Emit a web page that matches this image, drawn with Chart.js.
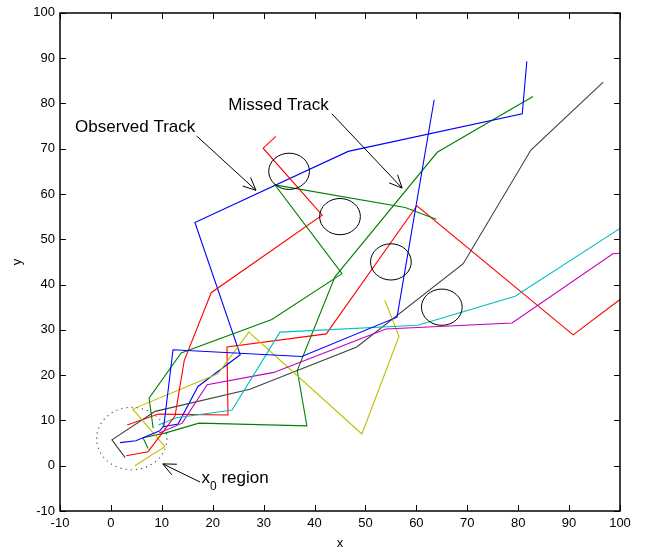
<!DOCTYPE html>
<html>
<head>
<meta charset="utf-8">
<script src="https://cdn.jsdelivr.net/npm/chart.js@4.4.1/dist/chart.umd.min.js"></script>
<style>
  html, body { margin: 0; padding: 0; background: #fff; }
  canvas { display: block; }
</style>
</head>
<body>
<canvas id="c" width="648" height="553" style="width:648px;height:553px"></canvas>
<script>
// ---- data ----
const xTicks = [-10, 0, 10, 20, 30, 40, 50, 60, 70, 80, 90, 100];
const yTicks = [-10, 0, 10, 20, 30, 40, 50, 60, 70, 80, 90, 100];

const trackBlue1   = [[1.8,5.1],[4.9,5.5],[9.6,7.7],[10.4,8.8],[12.2,25.6],[37.5,24.1],[56.2,32.8],[63.5,80.8]];
const trackGreen1  = [[8.3,8.3],[7.5,14.9],[13.8,24.9],[31.6,32.3],[45.4,42.4],[32.2,62.0],[57.8,57.0],[63.9,54.4]];
const trackRed1    = [[3.0,2.2],[7.3,3.1],[12.6,11.0],[14.4,23.2],[19.7,38.2],[41.5,55.3],[29.9,70.1],[32.4,72.7]];
const trackCyan    = [[9.3,9.0],[12.9,10.6],[23.8,12.3],[33.2,29.5],[60.3,31.0],[79.4,37.4],[100,52.4]];
const trackMagenta = [[9.5,7.2],[14.0,9.4],[18.9,17.9],[32.0,20.6],[54.0,30.2],[78.8,31.5],[98.6,46.8],[100,46.9]];
const trackYellow  = [[4.7,0.0],[10.6,4.2],[4.3,12.5],[21.0,20.3],[27.1,29.5],[49.3,7.0],[56.6,28.6],[53.8,36.5]];
const trackGray    = [[2.8,1.8],[0.2,5.7],[8.7,12.0],[27.3,16.9],[48.3,26.2],[69.2,44.6],[82.5,69.7],[96.7,84.7]];
const trackBlue2   = [[10.2,8.6],[13.2,9.2],[17.1,17.5],[25.4,24.5],[16.5,53.7],[46.6,69.4],[80.8,77.7],[81.7,89.3]];
const trackGreen2  = [[7.3,3.8],[6.3,6.2],[10.6,7.2],[17.3,9.4],[38.5,8.8],[36.6,21.0],[44.0,41.7],[64.1,69.2],[82.9,81.5]];
const trackRed2    = [[3.2,9.0],[9.3,11.4],[23.0,11.2],[22.8,26.2],[42.3,29.1],[60.1,57.4],[90.8,28.9],[100,36.7]];

const tracks = [trackBlue1, trackGreen1, trackRed1, trackCyan, trackMagenta, trackYellow, trackGray, trackBlue2, trackGreen2, trackRed2];
const trackColors = ['#0000ff', '#008000', '#ff0000', '#00bfbf', '#bf00bf', '#bfbf00', '#404040', '#0000ff', '#008000', '#ff0000'];

// gates (circles) around missed detections: centre x, centre y, radius (data units)
const gateCentersX = [35, 45, 55, 65];
const gateCentersY = [65, 55, 45, 35];
const gateRadius = 4;
// x0 region (dotted)
const regionCenter = [4.1, 6.0];
const regionRadius = 6.9;

// annotations (data units)
const labelTexts = ['Observed Track', 'Missed Track'];
const labelPos = [[-7.05, 73.7], [23.06, 78.5]];
const x0LabelPos = [17.8, -3.9];
const arrowsFrom = [[16.85, 72.8], [43.4, 77.7], [17.5, -3.6]];
const arrowsTo   = [[28.5, 60.8], [57.2, 61.3], [10.2, 0.4]];

const FONT = '"Liberation Sans", Helvetica, Arial, sans-serif';

const decorPlugin = {
  id: 'decor',
  afterDatasetsDraw(chart) {
    const ctx = chart.ctx;
    const xs = chart.scales.x, ys = chart.scales.y;
    const px = v => xs.getPixelForValue(v);
    const py = v => ys.getPixelForValue(v);
    ctx.save();
    // gates
    ctx.strokeStyle = '#000';
    ctx.lineWidth = 1;
    for (let i = 0; i < gateCentersX.length; i++) {
      const cx = px(gateCentersX[i]), cy = py(gateCentersY[i]);
      const rx = Math.abs(px(gateCentersX[i] + gateRadius) - cx);
      const ry = Math.abs(py(gateCentersY[i] + gateRadius) - cy);
      ctx.beginPath();
      ctx.ellipse(cx, cy, rx, ry, 0, 0, Math.PI * 2);
      ctx.stroke();
    }
    // dotted region
    {
      const cx = px(regionCenter[0]), cy = py(regionCenter[1]);
      const rx = Math.abs(px(regionCenter[0] + regionRadius) - cx);
      const ry = Math.abs(py(regionCenter[1] + regionRadius) - cy);
      ctx.strokeStyle = '#555';
      ctx.lineWidth = 1.2;
      ctx.setLineDash([1.2, 4]);
      ctx.beginPath();
      ctx.ellipse(cx, cy, rx, ry, 0, 0, Math.PI * 2);
      ctx.stroke();
      ctx.setLineDash([]);
    }
    // arrows
    ctx.strokeStyle = '#000';
    ctx.lineWidth = 1;
    for (let i = 0; i < arrowsFrom.length; i++) {
      const x1 = px(arrowsFrom[i][0]), y1 = py(arrowsFrom[i][1]);
      const x2 = px(arrowsTo[i][0]), y2 = py(arrowsTo[i][1]);
      const a = Math.atan2(y2 - y1, x2 - x1);
      const L = 14, h = 0.43;
      ctx.beginPath();
      ctx.moveTo(x1, y1); ctx.lineTo(x2, y2);
      ctx.moveTo(x2 - L * Math.cos(a - h), y2 - L * Math.sin(a - h));
      ctx.lineTo(x2, y2);
      ctx.lineTo(x2 - L * Math.cos(a + h), y2 - L * Math.sin(a + h));
      ctx.stroke();
    }
    // labels
    ctx.fillStyle = '#000';
    ctx.textBaseline = 'alphabetic';
    ctx.textAlign = 'left';
    ctx.font = '17px ' + FONT;
    for (let i = 0; i < labelTexts.length; i++) {
      ctx.fillText(labelTexts[i], px(labelPos[i][0]), py(labelPos[i][1]));
    }
    {
      const lx = px(x0LabelPos[0]), ly = py(x0LabelPos[1]);
      ctx.fillText('x', lx, ly);
      const wx = ctx.measureText('x').width;
      ctx.font = '12px ' + FONT;
      ctx.fillText('0', lx + wx, ly + 7);
      const w0 = ctx.measureText('0').width;
      ctx.font = '17px ' + FONT;
      ctx.fillText(' region', lx + wx + w0, ly);
    }
    ctx.restore();
  },
  afterDraw(chart) {
    const ctx = chart.ctx;
    const a = chart.chartArea;
    const xs = chart.scales.x, ys = chart.scales.y;
    ctx.save();
    ctx.strokeStyle = '#000';
    ctx.lineWidth = 1.5;
    const L = Math.round(a.left), R = Math.round(a.right);
    const T = Math.round(a.top), B = Math.round(a.bottom);
    ctx.strokeRect(L, T, R - L, B - T);
    ctx.lineWidth = 1;
    const tl = 6;
    ctx.beginPath();
    xTicks.forEach(v => {
      const x = Math.round(xs.getPixelForValue(v)) + 0.5;
      ctx.moveTo(x, B); ctx.lineTo(x, B - tl);
      ctx.moveTo(x, T); ctx.lineTo(x, T + tl);
    });
    yTicks.forEach(v => {
      const y = Math.round(ys.getPixelForValue(v)) + 0.5;
      ctx.moveTo(L, y); ctx.lineTo(L + tl, y);
      ctx.moveTo(R, y); ctx.lineTo(R - tl, y);
    });
    ctx.stroke();
    ctx.restore();
  }
};

const tickFont = { family: FONT, size: 13 };

new Chart(document.getElementById('c'), {
  type: 'scatter',
  data: {
    datasets: tracks.map((t, i) => ({
      data: t.map(p => ({ x: p[0], y: p[1] })),
      showLine: true,
      borderColor: trackColors[i],
      backgroundColor: trackColors[i],
      borderWidth: 1.1,
      pointRadius: 0,
      fill: false,
      tension: 0
    }))
  },
  options: {
    responsive: false,
    animation: false,
    devicePixelRatio: 1,
    layout: { padding: { top: 7, right: 28, left: 0, bottom: 0 } },
    plugins: { legend: { display: false }, tooltip: { enabled: false } },
    scales: {
      x: {
        type: 'linear', min: -10, max: 100,
        afterBuildTicks: s => { s.ticks = xTicks.map(v => ({ value: v })); },
        ticks: { color: '#000', font: tickFont, padding: 5, maxRotation: 0, autoSkip: false },
        grid: { display: false, drawTicks: false },
        border: { display: false },
        title: { display: true, text: 'x', color: '#000', font: tickFont, padding: { top: 0, bottom: 2 } },
        afterFit: s => { s.height = 42; }
      },
      y: {
        type: 'linear', min: -10, max: 100,
        afterBuildTicks: s => { s.ticks = yTicks.map(v => ({ value: v })); },
        ticks: { color: '#000', font: tickFont, padding: 5, autoSkip: false },
        grid: { display: false, drawTicks: false },
        border: { display: false },
        title: { display: true, text: 'y', color: '#000', font: tickFont, padding: { top: 10, bottom: 0 } },
        afterFit: s => { s.width = 60; }
      }
    }
  },
  plugins: [decorPlugin]
});
</script>
</body>
</html>
